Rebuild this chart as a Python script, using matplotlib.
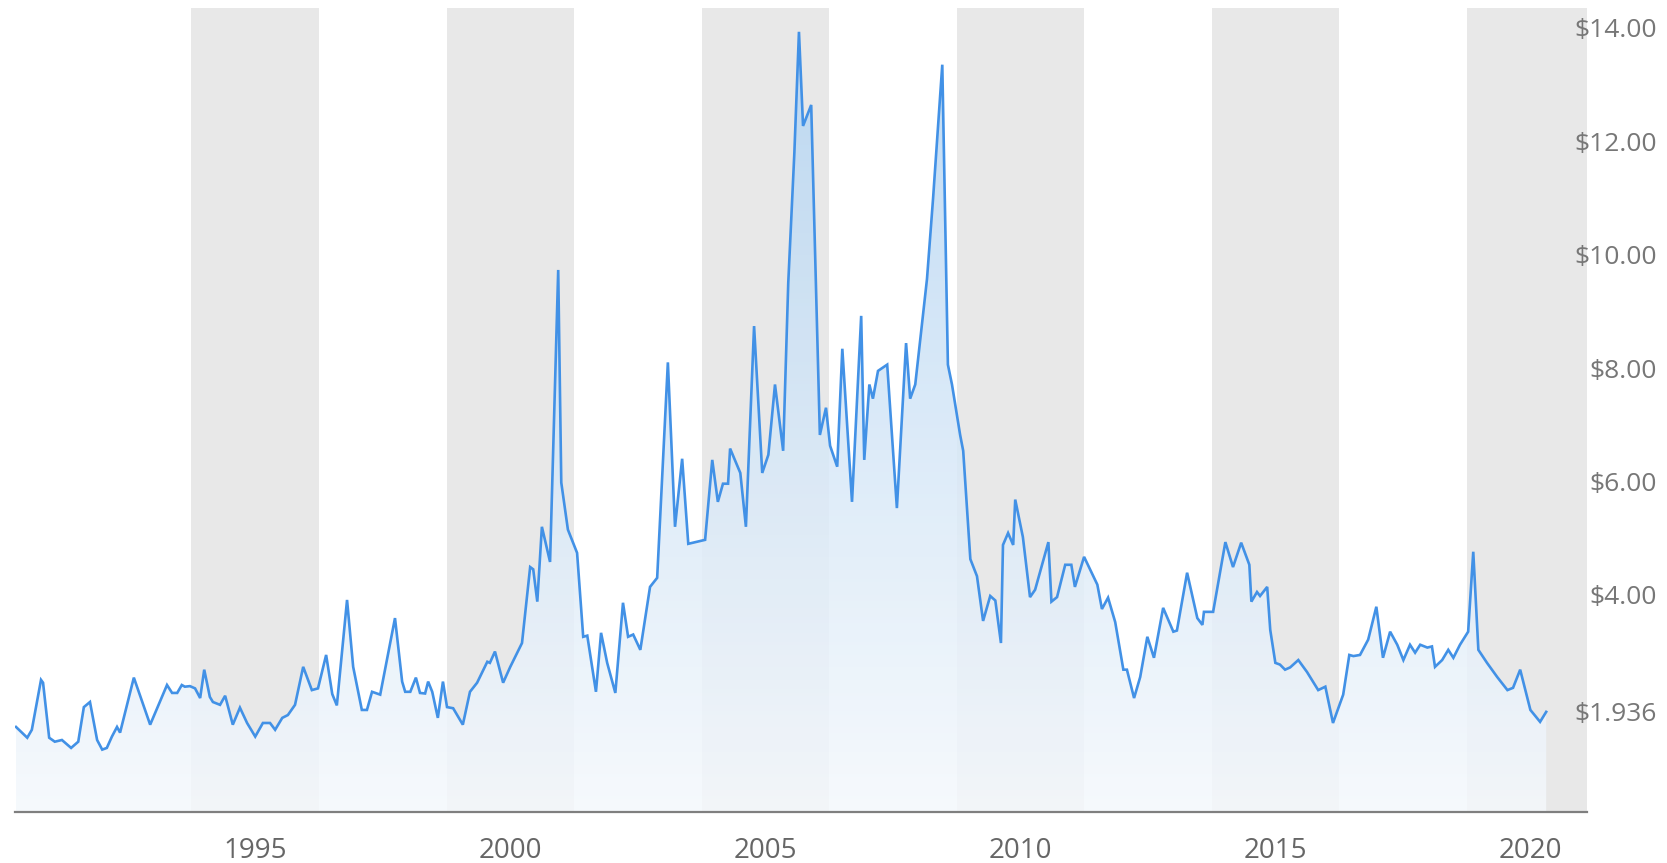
import numpy as np
import matplotlib.pyplot as plt

# natural gas front-month price (decimal year, USD)
years = [
    1990.31, 1990.53, 1990.62, 1990.80, 1990.84, 1990.96, 1991.07, 1991.21, 1991.39, 1991.53,
    1991.64, 1991.76, 1991.90, 1992.00, 1992.09, 1992.19, 1992.29, 1992.35, 1992.62, 1992.94,
    1993.27, 1993.37, 1993.47, 1993.56, 1993.62, 1993.72, 1993.82, 1993.92, 1994.00, 1994.11,
    1994.17, 1994.31, 1994.41, 1994.56, 1994.70, 1994.84, 1995.00, 1995.15, 1995.29, 1995.39,
    1995.53, 1995.64, 1995.78, 1995.94, 1996.11, 1996.23, 1996.39, 1996.51, 1996.60, 1996.80,
    1996.92, 1997.09, 1997.19, 1997.29, 1997.45, 1997.74, 1997.88, 1997.94, 1998.04, 1998.15,
    1998.23, 1998.33, 1998.39, 1998.47, 1998.58, 1998.68, 1998.76, 1998.88, 1999.07, 1999.21,
    1999.35, 1999.55, 1999.60, 1999.70, 1999.86, 2000.00, 2000.23, 2000.39, 2000.45, 2000.53,
    2000.62, 2000.78, 2000.94, 2001.00, 2001.13, 2001.31, 2001.43, 2001.51, 2001.68, 2001.78,
    2001.90, 2002.06, 2002.21, 2002.31, 2002.41, 2002.55, 2002.74, 2002.88, 2003.09, 2003.23,
    2003.37, 2003.49, 2003.82, 2003.96, 2004.07, 2004.17, 2004.27, 2004.31, 2004.51, 2004.62,
    2004.78, 2004.94, 2005.06, 2005.19, 2005.35, 2005.45, 2005.57, 2005.66, 2005.74, 2005.90,
    2006.07, 2006.19, 2006.27, 2006.41, 2006.51, 2006.70, 2006.88, 2006.94, 2007.04, 2007.11,
    2007.21, 2007.39, 2007.58, 2007.76, 2007.84, 2007.94, 2008.17, 2008.29, 2008.47, 2008.58,
    2008.66, 2008.82, 2008.88, 2009.02, 2009.15, 2009.27, 2009.41, 2009.51, 2009.62, 2009.66,
    2009.76, 2009.86, 2009.90, 2010.05, 2010.19, 2010.29, 2010.55, 2010.61, 2010.72, 2010.88,
    2011.00, 2011.07, 2011.25, 2011.51, 2011.60, 2011.72, 2011.86, 2012.02, 2012.09, 2012.23,
    2012.35, 2012.49, 2012.62, 2012.80, 2013.00, 2013.07, 2013.27, 2013.47, 2013.57, 2013.60,
    2013.78, 2014.02, 2014.17, 2014.33, 2014.49, 2014.53, 2014.64, 2014.70, 2014.84, 2014.90,
    2015.00, 2015.09, 2015.19, 2015.29, 2015.45, 2015.62, 2015.84, 2015.98, 2016.13, 2016.33,
    2016.45, 2016.53, 2016.66, 2016.82, 2016.98, 2017.11, 2017.25, 2017.39, 2017.51, 2017.64,
    2017.74, 2017.84, 2017.98, 2018.07, 2018.13, 2018.27, 2018.39, 2018.49, 2018.62, 2018.78,
    2018.88, 2018.98, 2019.15, 2019.35, 2019.55, 2019.66, 2019.80, 2020.00, 2020.19, 2020.31,
]
prices = [
    1.67, 1.48, 1.62, 2.50, 2.45, 1.48, 1.41, 1.44, 1.30, 1.41,
    2.02, 2.11, 1.44, 1.27, 1.30, 1.50, 1.67, 1.57, 2.54, 1.71,
    2.41, 2.27, 2.27, 2.41, 2.38, 2.39, 2.35, 2.18, 2.68, 2.20,
    2.11, 2.06, 2.22, 1.71, 2.01, 1.74, 1.50, 1.74, 1.74, 1.62,
    1.83, 1.88, 2.06, 2.73, 2.32, 2.35, 2.94, 2.25, 2.05, 3.91,
    2.73, 1.97, 1.97, 2.29, 2.24, 3.59, 2.47, 2.29, 2.29, 2.54,
    2.27, 2.26, 2.47, 2.29, 1.83, 2.47, 2.02, 2.00, 1.71, 2.29,
    2.45, 2.82, 2.80, 3.00, 2.45, 2.73, 3.15, 4.49, 4.45, 3.88,
    5.20, 4.58, 9.73, 5.98, 5.15, 4.74, 3.26, 3.28, 2.29, 3.33,
    2.80, 2.27, 3.86, 3.26, 3.30, 3.03, 4.14, 4.30, 8.10, 5.20,
    6.40, 4.90, 4.97, 6.38, 5.64, 5.96, 5.96, 6.58, 6.15, 5.20,
    8.74, 6.15, 6.47, 7.71, 6.54, 9.50, 11.80, 13.93, 12.27, 12.64,
    6.82, 7.30, 6.63, 6.26, 8.34, 5.64, 8.92, 6.38, 7.71, 7.46,
    7.95, 8.06, 5.53, 8.44, 7.46, 7.71, 9.57, 11.00, 13.35, 8.06,
    7.71, 6.82, 6.54, 4.63, 4.33, 3.54, 3.98, 3.90, 3.15, 4.88,
    5.09, 4.88, 5.68, 5.02, 3.96, 4.09, 4.93, 3.88, 3.96, 4.53,
    4.53, 4.14, 4.67, 4.18, 3.75, 3.95, 3.52, 2.68, 2.68, 2.18,
    2.55, 3.26, 2.89, 3.77, 3.35, 3.37, 4.39, 3.59, 3.47, 3.70,
    3.70, 4.93, 4.49, 4.92, 4.53, 3.88, 4.05, 3.98, 4.14, 3.38,
    2.80, 2.77, 2.68, 2.72, 2.85, 2.64, 2.32, 2.38, 1.74, 2.24,
    2.94, 2.92, 2.94, 3.21, 3.79, 2.89, 3.35, 3.12, 2.85, 3.12,
    2.98, 3.12, 3.07, 3.09, 2.73, 2.85, 3.03, 2.89, 3.12, 3.35,
    4.76, 3.03, 2.80, 2.55, 2.32, 2.36, 2.68, 1.97, 1.76, 1.936,
]

band_centers = [1995, 2000, 2005, 2010, 2015, 2020]
year_ticks = [1995, 2000, 2005, 2010, 2015, 2020]
price_ticks = [14, 12, 10, 8, 6, 4]
last_label = '$1.936'

x0, x1 = 1990.29, 2021.11
y0, y1 = 0.17, 14.35

fig = plt.figure(figsize=(16.67, 8.63), dpi=100)
ax = fig.add_axes([15 / 1667, 1 - 812 / 863, 1572 / 1667, 804 / 863])

for c in band_centers:
    ax.axvspan(c - 1.25, c + 1.25, color='#e8e8e8', lw=0, zorder=0)

# gradient fill under the line
n = 256
top = np.array([0.70, 0.83, 0.95, 0.85])
bot = np.array([0.96, 0.975, 0.99, 0.85])
t = np.linspace(0, 1, n)[:, None]
grad = (bot * (1 - t) + top * t)[:, None, :]
img = ax.imshow(grad, extent=[x0, x1, y0, y1], aspect='auto', origin='lower', zorder=1)
poly = ax.fill_between(years, prices, y0, facecolor='none', edgecolor='none')
img.set_clip_path(poly.get_paths()[0], transform=ax.transData)

ax.plot(years, prices, color='#4291e6', lw=1.9, zorder=3, solid_joinstyle='miter')

ax.set_xlim(x0, x1)
ax.set_ylim(y0, y1)

for s in ['top', 'left', 'right']:
    ax.spines[s].set_visible(False)
ax.spines['bottom'].set_color('#7f7f7f')
ax.spines['bottom'].set_linewidth(1.6)
ax.spines['bottom'].set_zorder(4)

ax.set_xticks(year_ticks)
ax.set_xticklabels([str(y) for y in year_ticks])
ax.tick_params(axis='x', length=0, pad=18, labelsize=20, labelcolor='#666666')
for lab in ax.get_xticklabels():
    lab.set_family('Open Sans')

ax.yaxis.tick_right()
ax.set_yticks(price_ticks + [prices[-1]])
ax.set_yticklabels(['$%.2f' % p for p in price_ticks] + [last_label])
ax.tick_params(axis='y', length=0, pad=50, labelsize=19, labelcolor='#777777')
for lab in ax.get_yticklabels():
    lab.set_family('Open Sans')
    lab.set_horizontalalignment('right')

fig.savefig('out.png', dpi=100, facecolor='white')
